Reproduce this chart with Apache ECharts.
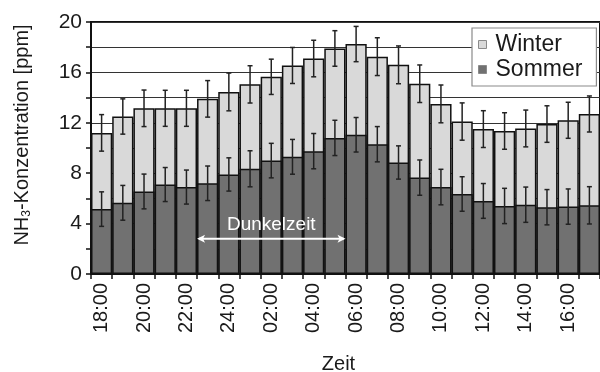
<!DOCTYPE html>
<html><head><meta charset="utf-8">
<script src="https://cdn.jsdelivr.net/npm/echarts@6/dist/echarts.min.js"></script>
<style>html,body{margin:0;padding:0;background:#fff}#c{width:600px;height:372px}</style>
</head><body><div id="c"></div>
<script>
const categories = ["18:00","19:00","20:00","21:00","22:00","23:00","24:00","01:00","02:00","03:00","04:00","05:00","06:00","07:00","08:00","09:00","10:00","11:00","12:00","13:00","14:00","15:00","16:00","17:00"];
const winter = [11.2,12.5,13.15,13.15,13.15,13.9,14.45,15.05,15.65,16.55,17.1,17.9,18.25,17.25,16.6,15.1,13.5,12.1,11.5,11.35,11.55,11.9,12.2,12.7];
const winterErr = [1.45,1.4,1.45,1.43,1.43,1.45,1.5,1.48,1.4,1.43,1.45,1.41,1.4,1.5,1.5,1.49,1.5,1.48,1.46,1.45,1.46,1.45,1.43,1.43];
const summer = [5.15,5.65,6.55,7.1,6.9,7.2,7.9,8.35,9.0,9.3,9.75,10.8,11.05,10.3,8.85,7.65,6.9,6.35,5.8,5.4,5.5,5.3,5.35,5.45];
const summerErr = [1.37,1.38,1.38,1.35,1.35,1.37,1.32,1.43,1.37,1.38,1.4,1.4,1.37,1.4,1.32,1.4,1.41,1.37,1.38,1.4,1.4,1.4,1.4,1.48];
const yTicks = [0,4,8,12,16,20];
const seriesNames = ["Winter","Sommer"];
const annotation = {text:"Dunkelzeit", from:["22:00","23:00"], to:["05:00","06:00"], y:2.8};

const FONT = "Liberation Sans, Arial, sans-serif";
const TXT = "#1a1a1a";
const chart = echarts.init(document.getElementById('c'), null, {renderer:'canvas'});

function errItem(params, api){
  const x = api.value(0), lo = api.value(1), hi = api.value(2);
  const pLo = api.coord([x, lo]), pHi = api.coord([x, hi]);
  const cap = 2.5;
  const st = {stroke:'#222', lineWidth:1.5};
  return {type:'group', children:[
    {type:'line', shape:{x1:pLo[0],y1:pLo[1],x2:pHi[0],y2:pHi[1]}, style:st},
    {type:'line', shape:{x1:pLo[0]-cap,y1:pLo[1],x2:pLo[0]+cap,y2:pLo[1]}, style:st},
    {type:'line', shape:{x1:pHi[0]-cap,y1:pHi[1],x2:pHi[0]+cap,y2:pHi[1]}, style:st}
  ]};
}
const winterErrData = winter.map((v,i)=>[i, v-winterErr[i], v+winterErr[i]]);
const summerErrData = summer.map((v,i)=>[i, v-summerErr[i], v+summerErr[i]]);

chart.setOption({
  animation:false,
  backgroundColor:'#fff',
  grid:{left:91, right:0, top:22, bottom:98, outerBoundsMode:'none', containLabel:false,
    show:true, borderColor:'#111', borderWidth:2, backgroundColor:'transparent'},
  legend:{
    data:seriesNames, orient:'vertical', left:472, top:28, width:120,
    backgroundColor:'#fff', borderColor:'#8a8a8a', borderWidth:1.2,
    padding:[5,14,5,6], itemGap:2, itemWidth:8, itemHeight:8, icon:'rect',
    itemStyle:{borderColor:'#8a8a8a', borderWidth:1},
    textStyle:{fontFamily:FONT, fontSize:23, color:TXT, lineHeight:23, padding:[0,0,0,4]}
  },
  xAxis:{
    type:'category', data:categories, boundaryGap:true,
    name:'Zeit', nameLocation:'middle', nameGap:80,
    nameTextStyle:{fontFamily:FONT, fontSize:20, color:TXT, padding:[0,14,0,0]},
    axisLine:{lineStyle:{color:'#111', width:2}},
    axisTick:{show:true, interval:0, length:5, inside:false, lineStyle:{color:'#111', width:1.5}},
    axisLabel:{interval:1, rotate:90, margin:9, fontFamily:FONT, fontSize:20, color:TXT},
    splitLine:{show:false}
  },
  yAxis:{
    type:'value', min:0, max:20, interval:2,
    name:'NH{sub|3}-Konzentration [ppm]', nameLocation:'middle', nameGap:58,
    nameTextStyle:{fontFamily:FONT, fontSize:20, color:TXT, padding:[0,0,0,26],
      rich:{sub:{fontFamily:FONT, fontSize:12, color:TXT, verticalAlign:'bottom', padding:[10,0,0,0]}}},
    axisLine:{show:true, lineStyle:{color:'#111', width:2}},
    axisTick:{show:true, length:5, inside:false, lineStyle:{color:'#111', width:1.5}},
    axisLabel:{margin:9, fontFamily:FONT, fontSize:21, color:TXT,
      formatter:v=> yTicks.indexOf(v)>=0 ? String(v) : ''},
    splitLine:{show:true, lineStyle:{color:'#333', width:1.2}}
  },
  series:[
    {name:seriesNames[0], type:'bar', data:winter, barWidth:'100%', barGap:'-100%', barCategoryGap:'0%',
      itemStyle:{color:'#d9d9d9', borderColor:'#111', borderWidth:1.5}, z:2},
    {name:seriesNames[1], type:'bar', data:summer, barWidth:'100%', barGap:'-100%', barCategoryGap:'0%',
      itemStyle:{color:'#717171', borderColor:'#111', borderWidth:1.5}, z:3},
    {name:'errW', type:'custom', renderItem:errItem, data:winterErrData, z:5, encode:{x:0, y:[1,2]}},
    {name:'errS', type:'custom', renderItem:errItem, data:summerErrData, z:5, encode:{x:0, y:[1,2]}}
  ]
});

function midPx(pair){
  const a = chart.convertToPixel({xAxisIndex:0}, pair[0]);
  const b = chart.convertToPixel({xAxisIndex:0}, pair[1]);
  return (a+b)/2;
}
const x1 = midPx(annotation.from), x2 = midPx(annotation.to);
const ya = chart.convertToPixel({yAxisIndex:0}, annotation.y);
const ah = 8, aw = 4;
chart.setOption({graphic:[
  {type:'line', shape:{x1:x1+2, y1:ya, x2:x2-2, y2:ya}, style:{stroke:'#fff', lineWidth:2}, z:20},
  {type:'polygon', shape:{points:[[x1,ya],[x1+ah,ya-aw],[x1+ah-2,ya],[x1+ah,ya+aw]]}, style:{fill:'#fff'}, z:20},
  {type:'polygon', shape:{points:[[x2,ya],[x2-ah,ya-aw],[x2-ah+2,ya],[x2-ah,ya+aw]]}, style:{fill:'#fff'}, z:20},
  {type:'text', x:(x1+x2)/2, y:ya-4, style:{text:annotation.text, fill:'#fff', font:'19px '+FONT, textAlign:'center', textVerticalAlign:'bottom'}, z:20}
]});
</script></body></html>
